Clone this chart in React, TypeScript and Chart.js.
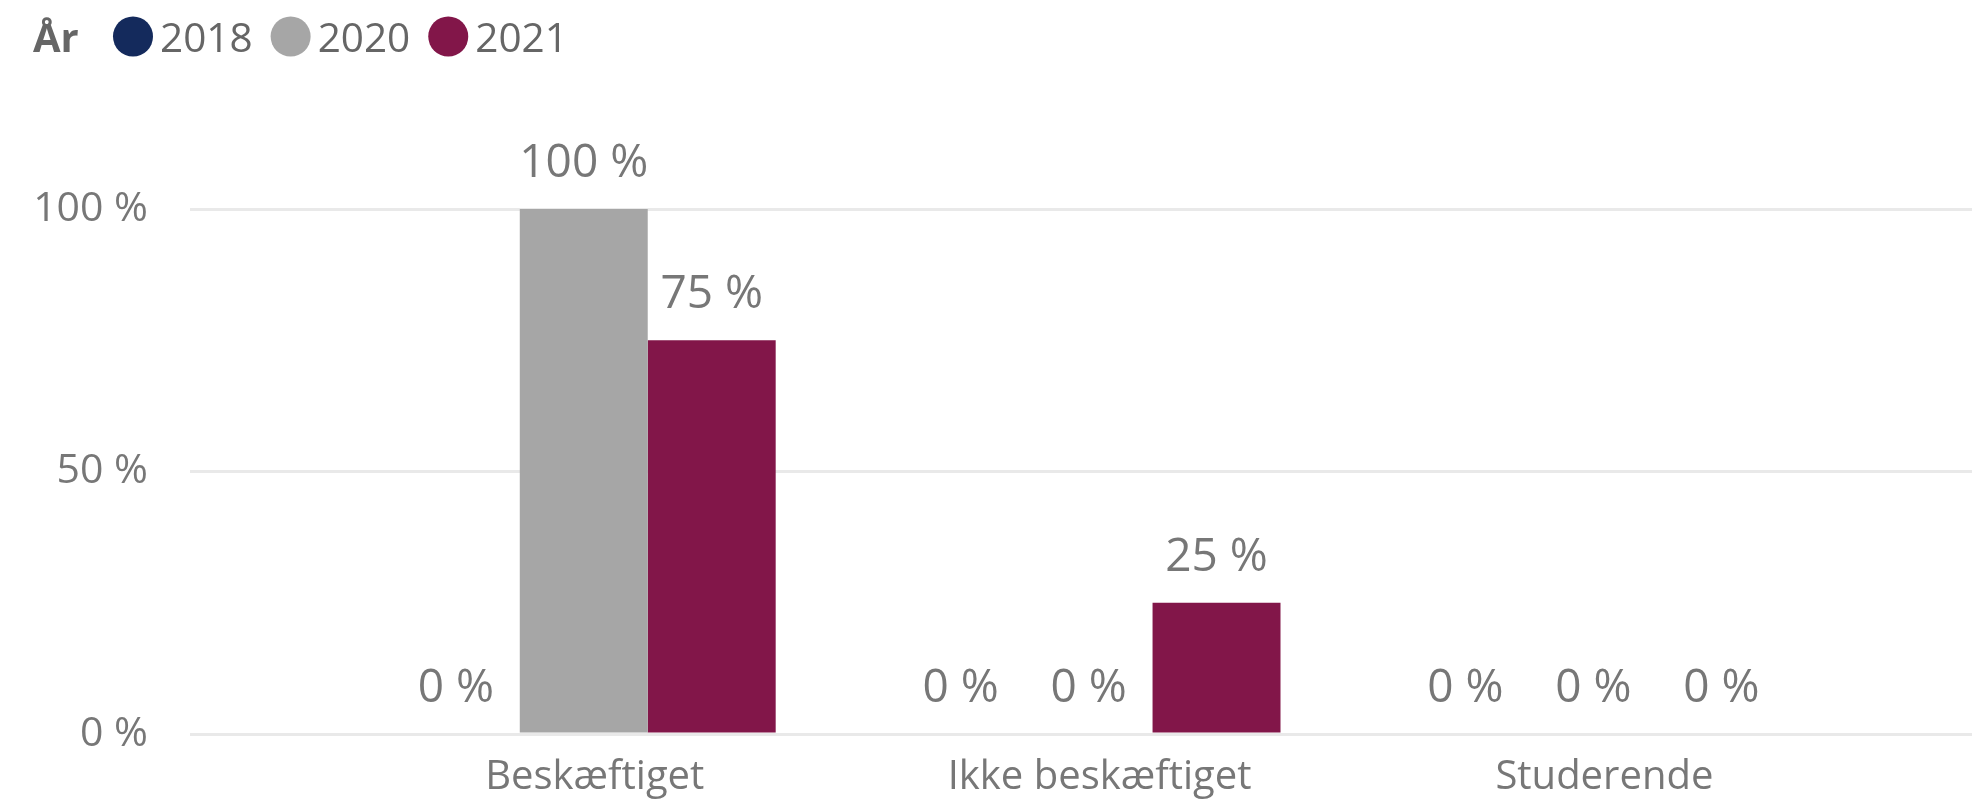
import React, { useEffect, useRef } from 'react';
import { Chart, registerables } from 'chart.js';

Chart.register(...registerables);

const categories = ['Beskæftiget', 'Ikke beskæftiget', 'Studerende'];
const years = ['2018', '2020', '2021'];
const values2018 = [0, 0, 0];
const values2020 = [100, 0, 0];
const values2021 = [75, 25, 0];
const yTicks = [0, 50, 100];
const legendTitle = 'År';

const seriesColors = ['#142A5C', '#A6A6A6', '#821649'];
const FONT = '"Open Sans", "Noto Sans", sans-serif';

const legendPlugin = {
  id: 'inlineLegend',
  afterDraw(chart: any) {
    const ctx = chart.ctx;
    ctx.save();
    ctx.textBaseline = 'alphabetic';
    ctx.textAlign = 'left';
    ctx.fillStyle = '#666666';
    ctx.font = `bold 40px ${FONT}`;
    ctx.fillText(legendTitle, 33, 52);
    let x = 113;
    chart.data.datasets.forEach((ds: any) => {
      ctx.fillStyle = ds.backgroundColor;
      ctx.beginPath();
      ctx.arc(x + 20, 36.5, 20, 0, Math.PI * 2);
      ctx.fill();
      ctx.fillStyle = '#666666';
      ctx.font = `40.5px ${FONT}`;
      ctx.fillText(ds.label, x + 47, 52);
      x += 47 + ctx.measureText(ds.label).width + 18;
    });
    ctx.restore();
  },
};

const dataLabelPlugin = {
  id: 'dataLabels',
  afterDatasetsDraw(chart: any) {
    const ctx = chart.ctx;
    ctx.save();
    ctx.textAlign = 'center';
    ctx.textBaseline = 'alphabetic';
    ctx.fillStyle = '#777777';
    ctx.font = `46px ${FONT}`;
    chart.data.datasets.forEach((ds: any, i: number) => {
      const meta = chart.getDatasetMeta(i);
      meta.data.forEach((bar: any, j: number) => {
        const v = ds.data[j].y;
        ctx.fillText(`${v} %`, bar.x, bar.y - 32);
      });
    });
    ctx.restore();
  },
};

export default function App() {
  const ref = useRef<HTMLCanvasElement | null>(null);

  useEffect(() => {
    document.body.style.margin = '0';
    if (!ref.current) return;
    const seriesValues = [values2018, values2020, values2021];
    const chart = new Chart(ref.current, {
      type: 'bar',
      data: {
        datasets: years.map((year, i) => ({
          label: year,
          data: categories.map((_, j) => ({ x: j, y: seriesValues[i][j] })),
          backgroundColor: seriesColors[i],
          borderWidth: 0,
          categoryPercentage: 0.7604,
          barPercentage: 1,
        })),
      },
      options: {
        animation: false,
        responsive: false,
        maintainAspectRatio: false,
        layout: { padding: { top: 209, left: 0, right: 0, bottom: 0 } },
        plugins: {
          legend: { display: false },
          tooltip: { enabled: false },
        },
        scales: {
          x: {
            type: 'linear',
            offset: false,
            min: -0.78,
            max: 2.75,
            grid: { display: false, drawTicks: false, offset: false },
            border: { display: false },
            afterBuildTicks: (scale: any) => {
              scale.ticks = categories.map((_, i) => ({ value: i }));
            },
            afterFit: (scale: any) => {
              scale.height = 68;
            },
            ticks: {
              autoSkip: false,
              maxRotation: 0,
              padding: 20,
              labelOffset: 11,
              color: '#777777',
              font: { family: FONT, size: 40 },
              callback: (v: any) => categories[v as number] ?? '',
            },
          },
          y: {
            min: 0,
            max: 100,
            afterBuildTicks: (scale: any) => {
              scale.ticks = yTicks.map((v) => ({ value: v }));
            },
            afterFit: (scale: any) => {
              scale.width = 190;
            },
            grid: { color: '#E9E9E9', lineWidth: 3, drawTicks: false },
            border: { display: false },
            ticks: {
              padding: 42,
              color: '#777777',
              font: { family: FONT, size: 41 },
              callback: (v: any) => `${v} %`,
            },
          },
        },
      },
      plugins: [dataLabelPlugin, legendPlugin],
    } as any);
    return () => chart.destroy();
  }, []);

  return (
    <div style={{ width: 1972, height: 802, position: 'relative' }}>
      <canvas ref={ref} width={1972} height={802} style={{ display: 'block' }} />
    </div>
  );
}
